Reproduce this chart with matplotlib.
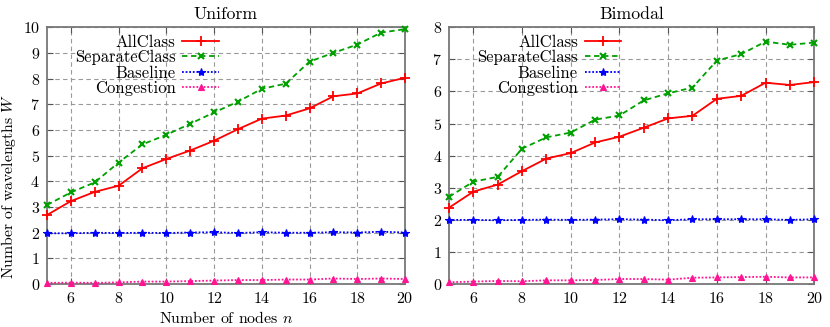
import numpy as np
import matplotlib
matplotlib.use("Agg")
import matplotlib.pyplot as plt

# === DATA ===
nodes = list(range(5, 21))

uni_allclass = [2.69, 3.23, 3.59, 3.83, 4.51, 4.87, 5.20, 5.58, 6.03, 6.44, 6.56, 6.84, 7.31, 7.42, 7.81, 8.03]
uni_separate = [3.08, 3.57, 3.96, 4.73, 5.44, 5.81, 6.24, 6.68, 7.10, 7.60, 7.80, 8.66, 9.00, 9.32, 9.79, 9.92]
uni_baseline = [1.98, 1.98, 2.00, 1.99, 2.00, 1.99, 2.01, 2.02, 1.99, 2.02, 2.00, 2.00, 2.02, 2.01, 2.04, 2.01]
uni_congestion = [0.05, 0.06, 0.05, 0.07, 0.10, 0.10, 0.12, 0.14, 0.16, 0.16, 0.18, 0.18, 0.22, 0.20, 0.22, 0.20]

bi_allclass = [2.38, 2.88, 3.10, 3.52, 3.91, 4.08, 4.41, 4.59, 4.87, 5.16, 5.24, 5.77, 5.86, 6.27, 6.20, 6.29]
bi_separate = [2.72, 3.19, 3.34, 4.22, 4.57, 4.72, 5.12, 5.25, 5.72, 5.94, 6.12, 6.96, 7.16, 7.55, 7.45, 7.52]
bi_baseline = [2.00, 2.00, 1.99, 2.00, 2.01, 2.00, 2.01, 2.02, 2.01, 1.99, 2.02, 2.02, 2.02, 2.02, 2.00, 2.02]
bi_congestion = [0.06, 0.08, 0.10, 0.09, 0.12, 0.12, 0.13, 0.16, 0.16, 0.14, 0.20, 0.21, 0.22, 0.23, 0.21, 0.21]

series_names = ["AllClass", "SeparateClass", "Baseline", "Congestion"]
xticks = [6, 8, 10, 12, 14, 16, 18, 20]

# === STYLE ===
plt.rcParams['font.family'] = ['cmr10', 'DejaVu Serif']
plt.rcParams['mathtext.fontset'] = 'cm'
plt.rcParams['axes.unicode_minus'] = False
plt.rcParams['axes.formatter.use_mathtext'] = True

styles = [
    dict(color='#ff0000', linestyle='-', marker='+', markersize=7, mew=1.3, lw=1.3),
    dict(color='#00a000', linestyle=(0, (3, 2)), marker='x', markersize=5, mew=1.5, lw=1.3),
    dict(color='#0000ff', linestyle=(0, (1, 1)), marker='*', markersize=6, mew=0.8, lw=1.3),
    dict(color='#ff1493', linestyle=(0, (1, 1)), marker='^', markersize=4.5, mew=0.8, lw=1.3),
]

fig = plt.figure(figsize=(8.3, 3.27), dpi=100)
ax1 = fig.add_axes([0.0566, 0.131, 0.4314, 0.786])
ax2 = fig.add_axes([0.541, 0.131, 0.44, 0.786])

panels = [
    (ax1, "Uniform", [uni_allclass, uni_separate, uni_baseline, uni_congestion], 10),
    (ax2, "Bimodal", [bi_allclass, bi_separate, bi_baseline, bi_congestion], 8),
]

for ax, title, data, ymax in panels:
    for name, vals, st in zip(series_names, data, styles):
        ax.plot(nodes, vals, label=name, clip_on=False, zorder=3, **st)
    ax.set_xlim(5, 20)
    ax.set_ylim(0, ymax)
    ax.set_xticks(xticks)
    ax.set_yticks(range(0, ymax + 1))
    ax.grid(True, color='#999999', linestyle=(0, (4, 3)), linewidth=0.8)
    ax.tick_params(direction='in', length=4, color='#555555', labelsize=11.5,
                   top=True, right=True, pad=5)
    for sp in ax.spines.values():
        sp.set_color('#777777')
        sp.set_linewidth(1.3)
    ax.set_title(title, fontsize=12.8, pad=6)
    ax.legend(loc='upper left', bbox_to_anchor=(0.05, 1.01), frameon=False, markerfirst=False,
              fontsize=12, handlelength=2.2, labelspacing=0.0, borderaxespad=0.2,
              handletextpad=0.4)

ax1.set_xlabel("Number of nodes $n$", fontsize=11.4, labelpad=3)
ax1.set_ylabel("Number of wavelengths $W$", fontsize=11.3)
ax1.yaxis.set_label_coords(-0.082, 0.38)

fig.savefig("out.png", dpi=100)
